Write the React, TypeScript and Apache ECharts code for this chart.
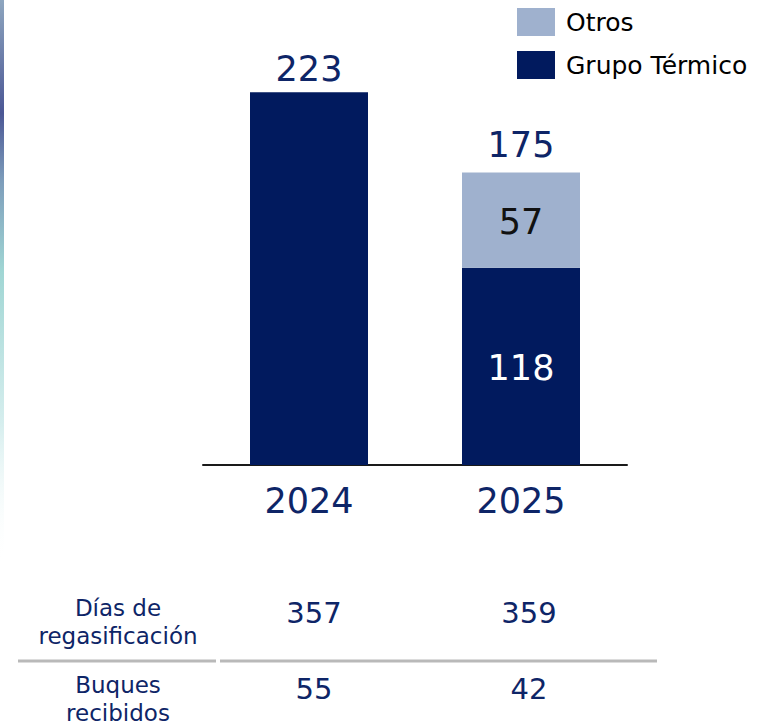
import React, { useEffect, useRef } from "react";
import * as echarts from "echarts";

const categories = ["2024", "2025"];
const grupoTermico = [223, 118];
const otros: (number | string)[] = ["-", 57];
const totals = [223, 175];
const tableRowLabels = ["Días de\nregasificación", "Buques\nrecibidos"];
const diasRegas = ["357", "359"];
const buques = ["55", "42"];

const NAVY = "#011a5e";
const LIGHT = "#9fb1ce";
const TEXT_NAVY = "#0e2567";
const FONT = "DejaVu Sans";

export default function App() {
  const ref = useRef<HTMLDivElement>(null);
  useEffect(() => {
    if (!ref.current) return;
    const chart = echarts.init(ref.current, undefined, { renderer: "svg" });
    const colX = [314, 529];
    const rowY = [613, 689];
    const graphics: any[] = [
      {
        type: "rect",
        shape: { x: 0, y: 0, width: 4, height: 565 },
        style: {
          fill: new echarts.graphic.LinearGradient(0, 0, 0, 1, [
            { offset: 0, color: "#8ea6bf" },
            { offset: 0.2, color: "#4b5795" },
            { offset: 0.32, color: "#7d9dbb" },
            { offset: 0.48, color: "#a0d6d4" },
            { offset: 0.75, color: "#d6eeee" },
            { offset: 1, color: "rgba(255,255,255,0)" },
          ]),
        },
      },
      {
        type: "line",
        shape: { x1: 18, y1: 661, x2: 216, y2: 661 },
        style: { stroke: "#b9b9b9", lineWidth: 3 },
      },
      {
        type: "line",
        shape: { x1: 220, y1: 661, x2: 657, y2: 661 },
        style: { stroke: "#b9b9b9", lineWidth: 3 },
      },
    ];
    tableRowLabels.forEach((t, i) => {
      graphics.push({
        type: "text",
        x: 118,
        y: i === 0 ? 622 : 699,
        style: {
          text: t,
          fill: TEXT_NAVY,
          font: `23px "${FONT}"`,
          lineHeight: 28,
          textAlign: "center",
          textVerticalAlign: "middle",
        },
      });
    });
    [diasRegas, buques].forEach((row, r) => {
      row.forEach((v, c) => {
        graphics.push({
          type: "text",
          x: colX[c],
          y: rowY[r],
          style: {
            text: v,
            fill: TEXT_NAVY,
            font: `29px "${FONT}"`,
            textAlign: "center",
            textVerticalAlign: "middle",
          },
        });
      });
    });

    chart.setOption({
      animation: false,
      textStyle: { fontFamily: FONT },
      legend: {
        data: ["Otros", "Grupo Térmico"],
        orient: "vertical",
        left: 517,
        top: 8,
        padding: 0,
        itemWidth: 38,
        itemHeight: 28,
        itemGap: 15,
        icon: "rect",
        selectedMode: false,
        textStyle: {
          fontSize: 25,
          fontWeight: "normal",
          color: "#000000",
          fontFamily: FONT,
          padding: [0, 0, 0, 6],
        },
      },
      grid: { left: 203, width: 424, top: 47, bottom: 260 },
      xAxis: {
        type: "category",
        data: categories,
        axisLine: { lineStyle: { color: "#1a1a1a", width: 2 } },
        axisTick: { show: false },
        axisLabel: {
          fontSize: 35,
          color: TEXT_NAVY,
          margin: 18,
          fontFamily: FONT,
        },
      },
      yAxis: { type: "value", min: 0, max: 250, show: false },
      series: [
        {
          name: "Grupo Térmico",
          type: "bar",
          stack: "t",
          barWidth: 118,
          itemStyle: { color: NAVY },
          data: grupoTermico.map((v, i) => ({
            value: v,
            label: {
              show: i === 1,
              position: "inside",
              color: "#ffffff",
              fontSize: 35,
              fontFamily: FONT,
              offset: [0, 2],
            },
          })),
        },
        {
          name: "Otros",
          type: "bar",
          stack: "t",
          barWidth: 118,
          itemStyle: { color: LIGHT },
          data: otros.map((v) => ({
            value: v,
            label: {
              show: v !== "-",
              position: "inside",
              color: "#111111",
              fontSize: 35,
              fontFamily: FONT,
              offset: [0, 2],
            },
          })),
        },
        {
          name: "Total",
          type: "scatter",
          symbolSize: 1,
          itemStyle: { opacity: 0 },
          data: totals.map((v, i) => ({
            value: v,
            label: {
              show: true,
              position: "top",
              distance: i === 0 ? 5 : 9,
              color: TEXT_NAVY,
              fontSize: 35,
              fontFamily: FONT,
              opacity: 1,
              formatter: String(v),
            },
          })),
        },
      ],
      graphic: graphics,
    });
    return () => chart.dispose();
  }, []);
  return (
    <div
      ref={ref}
      style={{ position: "absolute", left: 0, top: 0, width: 771, height: 725 }}
    />
  );
}
